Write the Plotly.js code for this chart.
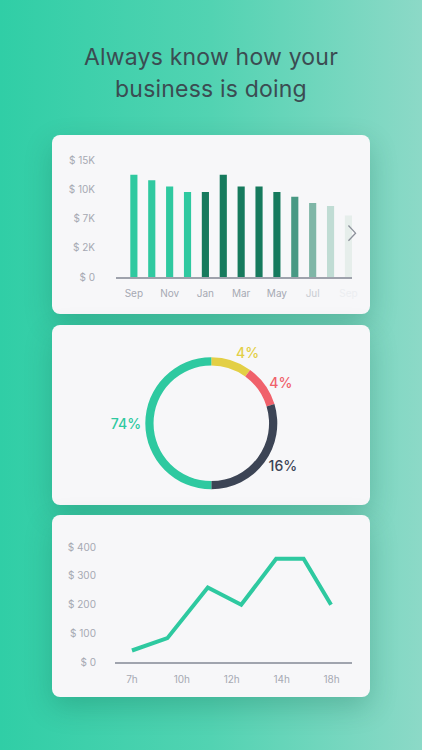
<!DOCTYPE html>
<html>
<head>
<meta charset="utf-8">
<script src="https://cdn.plot.ly/plotly-3.0.1.min.js"></script>
<style>
  html, body { margin: 0; padding: 0; }
  body {
    width: 422px; height: 750px; overflow: hidden; position: relative;
    background: linear-gradient(to right, #30cea6 0%, #52d3b2 50%, #8cd9c7 100%);
    font-family: Inter, "Noto Sans", sans-serif;
  }
  h1 {
    position: absolute; left: 0; top: 41px; width: 422px; margin: 0;
    text-align: center; font-weight: 400; font-size: 23px; line-height: 32px;
    color: #3b4c52; letter-spacing: 0.2px;
  }
  .card {
    position: absolute; left: 52px; width: 318px; border-radius: 8px;
    background: #f7f7f9; box-shadow: 0 10px 28px rgba(0, 70, 50, 0.22);
    overflow: hidden;
  }
</style>
</head>
<body>
<h1>Always know how your<br>business is doing</h1>
<div class="card" id="bar-card" style="top:135px;height:179px"></div>
<div class="card" id="pie-card" style="top:325px;height:180px"></div>
<div class="card" id="line-card" style="top:515px;height:182px"></div>
<script>
// monthly revenue (axis units: 15000 = top gridline)
const months = ['Sep', 'Oct', 'Nov', 'Dec', 'Jan', 'Feb', 'Mar', 'Apr', 'May', 'Jun', 'Jul', 'Aug', 'Sep'];
const monthValues = [13100, 12400, 11600, 10900, 10900, 13100, 11600, 11600, 10900, 10300, 9500, 9100, 7900];
const monthColors = ['#2fc9a0', '#2fc9a0', '#2fc9a0', '#2fc9a0', '#167a5d', '#167a5d', '#167a5d', '#167a5d',
  '#167a5d', '#489984', '#7fb6a7', '#c0dcd4', '#e6eeeb'];
const monthTickColors = ['#a6a9b3', '#a6a9b3', '#a6a9b3', '#a6a9b3', '#a6a9b3', '#c9ccd2', '#eceef1'];
const barTickVals = [0, 3750, 7500, 11250, 15000];
const barTickText = ['$ 0', '$ 2K', '$ 7K', '$ 10K', '$ 15K'];
const barGridVals = [7500, 15000];

// share split
const shareLabels = ['Yellow', 'Red', 'Dark', 'Green'];
const shareValues = [10, 10.3, 29.7, 50];
const shareText = ['4%', '4%', '16%', '74%'];
const shareColors = ['#e3cf45', '#f0616b', '#3c4455', '#2ec9a0'];

// hourly revenue
const hourX = [0, 0.71, 1.52, 2.19, 2.89, 3.44, 3.99];
const hourValues = [40, 83, 259, 199, 359, 359, 199];
const hourTickVals = [0, 1, 2, 3, 4];
const hourTickText = ['7h', '10h', '12h', '14h', '18h'];
const lineTickVals = [0, 100, 200, 300, 400];
const lineTickText = ['$ 0', '$ 100', '$ 200', '$ 300', '$ 400'];
const lineGridVals = [200, 400];

const tickFont = {family: 'Inter, "Noto Sans", sans-serif', size: 10, color: '#a6a9b3'};
const config = {staticPlot: true, displayModeBar: false};

function barChart() {
  const idx = months.map((m, i) => i);
  const labelIdx = idx.filter(i => i % 2 === 0);
  const trace = {
    type: 'bar', x: idx, y: monthValues,
    marker: {color: monthColors}, hoverinfo: 'none'
  };
  const layout = {
    width: 318, height: 179,
    margin: {l: 64, r: 18, t: 25, b: 37},
    paper_bgcolor: 'rgba(0,0,0,0)', plot_bgcolor: 'rgba(0,0,0,0)',
    bargap: 0.6, showlegend: false,
    xaxis: {
      range: [-1, 12.2], tickvals: labelIdx,
      ticktext: labelIdx.map((i, k) => `<span style="color:${monthTickColors[k]}">${months[i]}</span>`),
      showgrid: false, zeroline: false, showline: true, linecolor: '#9ea2ac', linewidth: 2,
      ticks: '', ticklabelstandoff: 6, tickfont: tickFont
    },
    yaxis: {
      range: [0, 15000], tickvals: barTickVals, ticktext: barTickText,
      showgrid: false, zeroline: false, ticks: '', ticklabelstandoff: 20, tickfont: tickFont
    },
    yaxis2: {
      overlaying: 'y', matches: 'y', range: [0, 15000], tickvals: barGridVals,
      showticklabels: false, showgrid: true, gridcolor: '#e6e6ec', gridwidth: 1, zeroline: false
    },
    shapes: [{
      type: 'path', xref: 'paper', yref: 'paper',
      path: 'M 0.985 0.44 L 1.015 0.375 L 0.985 0.31',
      line: {color: '#8d919b', width: 1.3}
    }]
  };
  Plotly.newPlot('bar-card', [trace], layout, config);
}

function pieChart() {
  const trace = {
    type: 'pie', labels: shareLabels, values: shareValues, text: shareText,
    textinfo: 'text', textposition: 'outside', sort: false, direction: 'clockwise', rotation: 0,
    hole: 0.875, marker: {colors: shareColors, line: {width: 0}},
    textfont: {family: 'Inter, "Noto Sans", sans-serif', size: 14, color: shareColors, weight: 500},
    domain: {x: [0.2934, 0.7085], y: [0.0872, 0.8206]},
    hoverinfo: 'none', automargin: false
  };
  const layout = {
    width: 318, height: 180, margin: {l: 0, r: 0, t: 0, b: 0},
    paper_bgcolor: 'rgba(0,0,0,0)', showlegend: false
  };
  Plotly.newPlot('pie-card', [trace], layout, config);
}

function lineChart() {
  const trace = {
    type: 'scatter', mode: 'lines', x: hourX, y: hourValues,
    line: {color: '#2ec9a0', width: 4, shape: 'linear'}, hoverinfo: 'none'
  };
  const layout = {
    width: 318, height: 182,
    margin: {l: 63, r: 18, t: 32, b: 35},
    paper_bgcolor: 'rgba(0,0,0,0)', plot_bgcolor: 'rgba(0,0,0,0)', showlegend: false,
    xaxis: {
      range: [-0.34, 4.41], tickvals: hourTickVals, ticktext: hourTickText,
      showgrid: false, zeroline: false, showline: true, linecolor: '#a0a4ae', linewidth: 2,
      ticks: '', ticklabelstandoff: 7, tickfont: tickFont
    },
    yaxis: {
      range: [0, 400], tickvals: lineTickVals, ticktext: lineTickText,
      showgrid: false, zeroline: false, ticks: '', ticklabelstandoff: 18, tickfont: tickFont
    },
    yaxis2: {
      overlaying: 'y', matches: 'y', range: [0, 400], tickvals: lineGridVals,
      showticklabels: false, showgrid: true, gridcolor: '#e9e9ee', gridwidth: 1, zeroline: false
    }
  };
  Plotly.newPlot('line-card', [trace], layout, config);
}

barChart();
pieChart();
lineChart();
</script>
</body>
</html>
